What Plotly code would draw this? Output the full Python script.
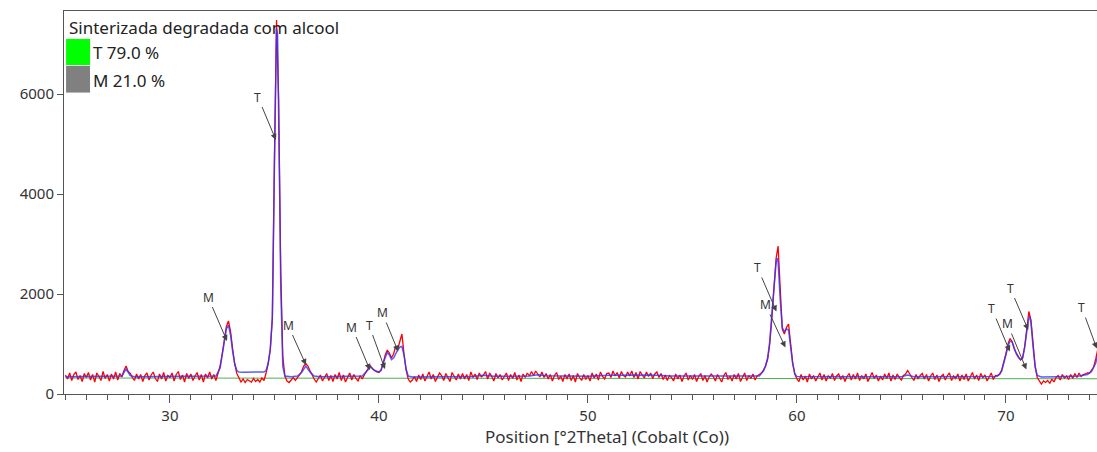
import plotly.graph_objects as go

# ---------------- data ----------------
start_2theta = 25.0
step_2theta = 0.1

observed_rows = [
    [380, 300, 420, 270, 390, 440, 290, 370, 250, 410],   # 25.x
    [330, 430, 280, 390, 240, 420, 350, 270, 450, 310],   # 26.x
    [390, 260, 400, 300, 440, 280, 410, 340, 470, 560],   # 27.x
    [450, 410, 330, 270, 400, 300, 390, 250, 370, 420],   # 28.x
    [280, 380, 440, 310, 250, 400, 300, 430, 260, 370],   # 29.x
    [330, 420, 260, 390, 450, 290, 380, 240, 410, 310],   # 30.x
    [400, 270, 360, 430, 280, 390, 240, 400, 320, 440],   # 31.x
    [300, 390, 270, 420, 560, 800, 1100, 1350, 1460, 1250],  # 32.x
    [900, 600, 410, 310, 240, 300, 230, 290, 260, 240],   # 33.x
    [310, 250, 290, 240, 320, 270, 420, 600, 880, 1500],  # 34.x
    [4700, 7480, 5900, 2500, 750, 360, 260, 230, 280, 330],  # 35.x
    [270, 320, 380, 450, 560, 610, 560, 470, 380, 300],   # 36.x
    [240, 300, 380, 260, 340, 410, 270, 370, 250, 390],   # 37.x
    [300, 430, 270, 380, 240, 350, 420, 280, 390, 310],   # 38.x
    [260, 370, 300, 380, 460, 520, 560, 500, 470, 440],   # 39.x
    [430, 480, 600, 780, 880, 820, 720, 800, 950, 900],   # 40.x
    [1050, 1200, 800, 480, 300, 240, 280, 350, 250, 380],  # 41.x
    [290, 400, 260, 370, 440, 300, 390, 250, 350, 420],   # 42.x
    [370, 270, 410, 320, 250, 430, 340, 280, 400, 300],   # 43.x
    [410, 300, 390, 270, 440, 330, 400, 290, 420, 340],   # 44.x
    [380, 450, 300, 420, 350, 260, 410, 320, 390, 280],   # 45.x
    [350, 420, 270, 390, 310, 430, 280, 380, 250, 400],   # 46.x
    [330, 420, 360, 450, 370, 460, 400, 340, 440, 330],   # 47.x
    [410, 300, 390, 260, 370, 430, 290, 360, 250, 390],   # 48.x
    [300, 400, 270, 370, 240, 410, 330, 270, 390, 290],   # 49.x
    [370, 260, 420, 320, 400, 280, 440, 350, 300, 410],   # 50.x
    [420, 330, 460, 360, 430, 320, 450, 370, 340, 440],   # 51.x
    [360, 460, 330, 430, 300, 450, 380, 320, 440, 350],   # 52.x
    [420, 310, 400, 440, 330, 410, 290, 380, 270, 370],   # 53.x
    [330, 260, 400, 300, 380, 250, 360, 420, 280, 370],   # 54.x
    [290, 390, 250, 350, 410, 270, 370, 240, 340, 400],   # 55.x
    [350, 260, 390, 310, 240, 370, 430, 290, 360, 260],   # 56.x
    [390, 300, 410, 250, 350, 420, 270, 370, 310, 400],   # 57.x
    [280, 360, 390, 420, 480, 560, 700, 1000, 1500, 2100],  # 58.x
    [2700, 2960, 2100, 1300, 1200, 1330, 1400, 1000, 620, 400],  # 59.x
    [300, 250, 390, 280, 360, 240, 400, 300, 370, 260],   # 60.x
    [350, 420, 280, 390, 260, 370, 310, 410, 270, 360],   # 61.x
    [400, 290, 370, 250, 350, 410, 280, 390, 300, 420],   # 62.x
    [270, 370, 300, 400, 250, 360, 430, 310, 380, 260],   # 63.x
    [360, 280, 400, 310, 420, 260, 380, 290, 400, 330],   # 64.x
    [280, 370, 400, 470, 390, 330, 270, 390, 300, 370],   # 65.x
    [410, 300, 390, 260, 360, 420, 290, 380, 250, 350],   # 66.x
    [390, 280, 370, 420, 270, 360, 310, 400, 260, 380],   # 67.x
    [290, 400, 260, 360, 430, 300, 380, 270, 410, 330],   # 68.x
    [380, 260, 350, 420, 290, 370, 360, 400, 480, 620],   # 69.x
    [800, 1000, 1110, 1050, 900, 820, 760, 680, 720, 950],  # 70.x
    [1300, 1650, 1480, 1000, 560, 330, 250, 200, 260, 230],  # 71.x
    [270, 210, 300, 240, 330, 370, 280, 390, 320, 360],   # 72.x
    [290, 390, 310, 410, 330, 420, 350, 390, 400, 420],   # 73.x
    [420, 470, 540, 700, 900],                             # 74.x
]

calc_x = [25.0, 27.5, 27.7, 27.9, 28.1, 28.3, 30.0, 32.2, 32.4, 32.5, 32.6, 32.7, 32.8, 32.9,
          33.0, 33.1, 33.2, 33.3, 33.5, 34.0, 34.5, 34.6, 34.7, 34.8, 34.9, 35.0, 35.05,
          35.1, 35.15, 35.2, 35.25, 35.3, 35.35, 35.4, 35.5, 35.8, 36.1, 36.3, 36.5, 36.7,
          36.9, 37.2, 39.2, 39.4, 39.6, 39.8, 40.0, 40.1, 40.2, 40.4, 40.5, 40.6, 40.7,
          40.9, 41.0, 41.1, 41.2, 41.3, 41.4, 41.6, 44.5, 45.0, 45.5, 47.2, 47.6, 48.0,
          50.0, 51.0, 52.0, 53.0, 54.0, 58.0, 58.2, 58.4, 58.5, 58.6, 58.7, 58.8, 58.9,
          59.0, 59.05, 59.1, 59.2, 59.3, 59.4, 59.5, 59.6, 59.7, 59.8, 59.9, 60.0, 62.0,
          65.0, 65.3, 65.6, 69.5, 69.7, 69.8, 69.9, 70.0, 70.1, 70.2, 70.3, 70.4, 70.5,
          70.6, 70.7, 70.8, 70.9, 71.0, 71.1, 71.15, 71.2, 71.3, 71.4, 71.5, 71.7, 72.5,
          73.5, 73.9, 74.1, 74.3, 74.4]
calc_y = [345, 345, 360, 500, 370, 345, 345, 360, 520, 760, 1050, 1300, 1380, 1180,
          850, 600, 470, 440, 435, 432, 440, 470, 620, 900, 1550, 4600, 6500,
          7300, 7200, 5900, 4000, 2200, 1000, 550, 360, 345, 360, 430, 560, 440,
          360, 345, 360, 450, 540, 470, 440, 470, 620, 830, 780, 690, 720,
          880, 940, 950, 780, 500, 360, 340, 350, 375, 355, 360, 385, 365,
          355, 375, 385, 380, 360, 350, 360, 460, 560, 720, 1050, 1600, 2200,
          2600, 2720, 2650, 1900, 1330, 1250, 1300, 1280, 960, 600, 400, 350, 345,
          345, 380, 345, 350, 390, 460, 600, 780, 960, 1060, 1040, 920, 800,
          730, 690, 720, 930, 1250, 1520, 1550, 1420, 950, 540, 370, 340, 345,
          360, 390, 450, 620, 800]

background_x = [25.0, 33.0, 35.0, 45.0, 55.0, 60.0, 70.0, 74.4]
background_y = [320, 318, 316, 312, 310, 308, 305, 305]

peak_labels = ["M", "T", "M", "M", "T", "M", "T", "M", "T", "M", "T", "T"]
peak_pos = [32.73, 35.07, 36.51, 39.57, 40.29, 40.92, 59.02, 59.45, 70.19, 70.98, 71.07, 74.35]
peak_tip = [1060, 5080, 580, 480, 500, 850, 1650, 930, 850, 490, 1280, 910]

legend_title = "Sinterizada degradada com alcool"
phase_names = ["T 79.0 %", "M 21.0 %"]
phase_colors = ["#00ff00", "#808080"]

x_title = "Position [°2Theta] (Cobalt (Co))"
x_range = [24.93, 74.36]
y_range = [0, 7660]

# ---------------- build ----------------
observed_y = [v for row in observed_rows for v in row]
observed_x = [round(start_2theta + step_2theta * i, 2) for i in range(len(observed_y))]

FONT = "Noto Sans"
fig = go.Figure()
fig.add_trace(go.Scatter(x=background_x, y=background_y, mode="lines",
                         line=dict(color="#4caf50", width=1), hoverinfo="skip"))
fig.add_trace(go.Scatter(x=observed_x, y=observed_y, mode="lines",
                         line=dict(color="#ff0000", width=1.3)))
fig.add_trace(go.Scatter(x=calc_x, y=calc_y, mode="lines",
                         line=dict(color="rgba(50,50,255,0.8)", width=1.5)))

annotations = []
offsets = [(-19, -44), (-18, -43), (-18, -40), (-18, -43), (-16, -44), (-16, -39),
           (-19, -44), (-20, -43), (-18, -43), (-19, -46), (-18, -42), (-15, -41)]
for lab, px, py, (ax, ay) in zip(peak_labels, peak_pos, peak_tip, offsets):
    annotations.append(dict(x=px, y=py, xref="x", yref="y", text=lab, showarrow=True,
                            ax=ax, ay=ay, arrowhead=2, arrowsize=1.2, arrowwidth=1,
                            arrowcolor="#444444", standoff=0, startstandoff=0,
                            font=dict(family=FONT, size=12, color="#333333")))

# legend block
annotations.append(dict(x=0.003, y=0.958, xref="paper", yref="paper", text=legend_title,
                        showarrow=False, xanchor="left", yanchor="middle",
                        font=dict(family=FONT, size=17, color="#222222")))
shapes = []
box_y = [(0.859, 0.927), (0.787, 0.857)]
text_y = [0.891, 0.818]
for name, col, (y0, y1), ty in zip(phase_names, phase_colors, box_y, text_y):
    shapes.append(dict(type="rect", xref="paper", yref="paper", x0=0.002, x1=0.0252,
                       y0=y0, y1=y1, fillcolor=col, line=dict(width=0)))
    annotations.append(dict(x=0.026, y=ty, xref="paper", yref="paper", text=name,
                            showarrow=False, xanchor="left", yanchor="middle",
                            font=dict(family=FONT, size=17, color="#222222")))

annotations.append(dict(x=50.9, y=-0.11, xref="x", yref="paper", text=x_title,
                        showarrow=False, xanchor="center", yanchor="middle",
                        font=dict(family=FONT, size=17, color="#333333")))

fig.update_layout(
    width=1097, height=452,
    margin=dict(l=64, r=0, t=11, b=58),
    paper_bgcolor="white", plot_bgcolor="white",
    showlegend=False,
    annotations=annotations, shapes=shapes,
    font=dict(family=FONT, size=15, color="#333333"),
)
fig.update_xaxes(range=x_range, showgrid=False, zeroline=False,
                 showline=True, linecolor="#555555", linewidth=1, mirror=True,
                 ticks="outside", ticklen=8, tickcolor="#555555", tick0=0, dtick=10,
                 minor=dict(dtick=1, ticks="outside", ticklen=5, tickcolor="#555555"),
                 tickfont=dict(family=FONT, size=15, color="#333333"))
fig.update_yaxes(range=y_range, showgrid=False, zeroline=False,
                 showline=True, linecolor="#555555", linewidth=1,
                 ticks="outside", ticklen=6, tickcolor="#555555", tick0=0, dtick=2000,
                 tickfont=dict(family=FONT, size=15, color="#333333"))

fig.write_html("out.html")
